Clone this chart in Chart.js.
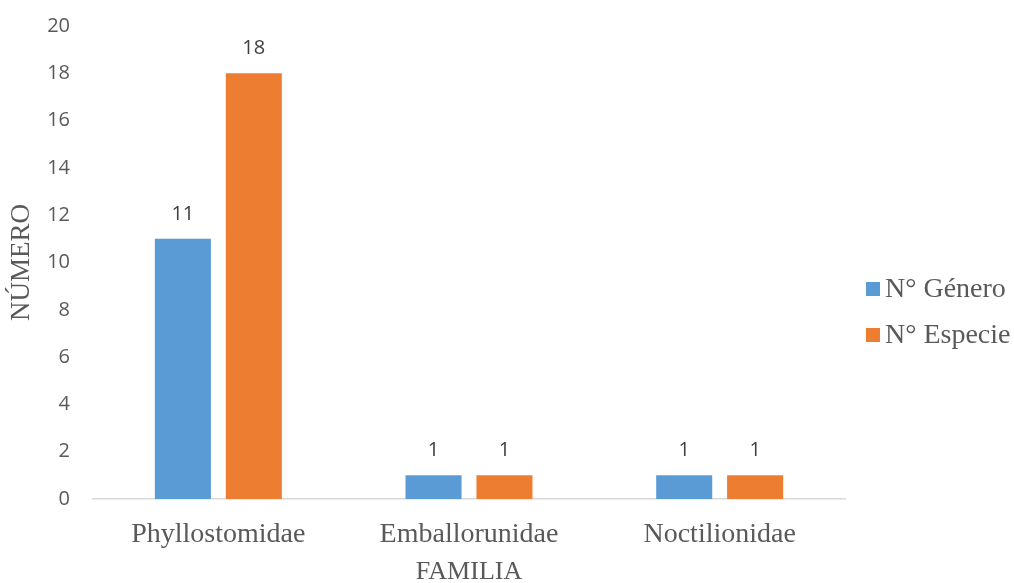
<!DOCTYPE html>
<html>
<head>
<meta charset="utf-8">
<script src="https://cdn.jsdelivr.net/npm/chart.js@4"></script>
<style>
html,body{margin:0;padding:0;background:#fff;}
#wrap{width:1014px;height:583px;position:relative;}
</style>
</head>
<body>
<div id="wrap"><canvas id="c"></canvas></div>
<script>
const categories = ["Phyllostomidae", "Emballorunidae", "Noctilionidae"];
const generoValues = [11, 1, 1];
const especieValues = [18, 1, 1];
const seriesNames = ["N° Género", "N° Especie"];
const yTicks = [0, 2, 4, 6, 8, 10, 12, 14, 16, 18, 20];

const serif = "'Liberation Serif', 'Times New Roman', serif";
const sans = "'Open Sans', 'Liberation Sans', sans-serif";
const textColor = "#595959";

const dataLabels = {
  id: 'dataLabels',
  afterDatasetsDraw(chart) {
    const ctx = chart.ctx;
    ctx.save();
    ctx.font = "20px " + sans;
    ctx.fillStyle = "#404040";
    ctx.textAlign = "center";
    ctx.textBaseline = "middle";
    chart.data.datasets.forEach((ds, i) => {
      const meta = chart.getDatasetMeta(i);
      meta.data.forEach((el, j) => {
        ctx.fillText(String(ds.data[j]), el.x, el.y - 25);
      });
    });
    ctx.restore();
  }
};

const sideLegend = {
  id: 'sideLegend',
  afterDraw(chart) {
    const ctx = chart.ctx;
    const area = chart.chartArea;
    const boxX = area.right + 21;
    const startY = 289;
    const step = 46;
    ctx.save();
    ctx.font = "28px " + serif;
    ctx.textBaseline = "middle";
    ctx.textAlign = "left";
    chart.data.datasets.forEach((ds, i) => {
      const y = startY + i * step;
      ctx.fillStyle = ds.backgroundColor;
      ctx.fillRect(boxX, y - 7, 14, 14);
      ctx.fillStyle = textColor;
      ctx.fillText(ds.label, boxX + 19, y + 1);
    });
    ctx.restore();
  }
};

new Chart(document.getElementById('c'), {
  type: 'bar',
  data: {
    labels: categories,
    datasets: [
      { label: seriesNames[0], data: generoValues, backgroundColor: '#5B9BD5', categoryPercentage: 0.566, barPercentage: 0.79 },
      { label: seriesNames[1], data: especieValues, backgroundColor: '#ED7D31', categoryPercentage: 0.566, barPercentage: 0.79 }
    ]
  },
  options: {
    responsive: true,
    maintainAspectRatio: false,
    animation: false,
    layout: { padding: { top: 0, right: 169, left: 0, bottom: 0 } },
    plugins: {
      legend: { display: false },
      tooltip: { enabled: false }
    },
    scales: {
      x: {
        grid: { display: false, drawTicks: false },
        border: { display: true, color: '#d9d9d9', width: 1.5 },
        ticks: { font: { family: serif, size: 28 }, color: textColor, padding: 19 },
        title: { display: true, text: 'FAMILIA', font: { family: serif, size: 26, lineHeight: 1 }, color: textColor, padding: { top: 0, bottom: -2 } },
        afterFit(scale) { scale.height = 84; scale.paddingLeft = 0; scale.paddingRight = 0; }
      },
      y: {
        min: 0, max: 20,
        afterBuildTicks(axis) { axis.ticks = yTicks.map(v => ({ value: v })); },
        grid: { display: false, drawTicks: false },
        border: { display: false },
        ticks: { font: { family: sans, size: 20 }, color: textColor, padding: 23 },
        title: { display: true, text: 'NÚMERO', font: { family: serif, size: 27 }, color: textColor, padding: { top: 6, bottom: 0 } },
        afterFit(scale) { scale.width = 93; scale.paddingTop = 26; scale.paddingBottom = 0; }
      }
    }
  },
  plugins: [dataLabels, sideLegend]
});
</script>
</body>
</html>
